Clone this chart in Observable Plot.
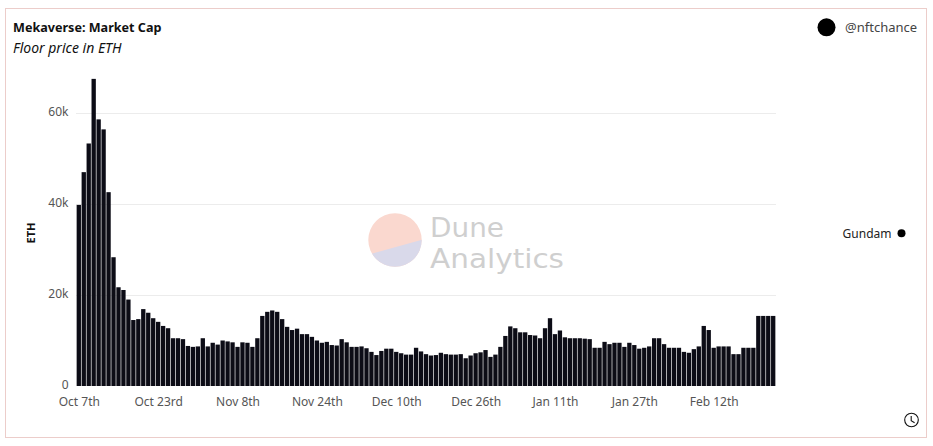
<!DOCTYPE html>
<html>
<head>
<meta charset="utf-8">
<script src="https://cdn.jsdelivr.net/npm/d3@7"></script>
<script src="https://cdn.jsdelivr.net/npm/@observablehq/plot@0.6"></script>
<style>
  html, body { margin: 0; padding: 0; background: #fff; }
  #wrap { position: relative; width: 933px; height: 446px; overflow: hidden; font-family: "Noto Sans", sans-serif; }
  #bg { position: absolute; left: 0; top: 0; }
  #chart { position: absolute; left: 0; top: 60px; }
  #chart svg { background: transparent !important; }
</style>
</head>
<body>
<div id="wrap">
  <svg id="bg" width="933" height="446" xmlns="http://www.w3.org/2000/svg">
    <defs>
      <clipPath id="logoClip"><circle cx="395" cy="240" r="26.7"/></clipPath>
    </defs>
    <rect x="5.5" y="8.5" width="921" height="429" fill="#fff" stroke="#eccdca" stroke-width="1"/>
    <text x="13" y="32" font-family="'Noto Sans', sans-serif" font-weight="700" font-size="12.6" fill="#111">Mekaverse: Market Cap</text>
    <text x="13" y="53" font-family="'Noto Sans', sans-serif" font-style="italic" font-size="14" fill="#111">Floor price in ETH</text>
    <circle cx="826.5" cy="27.3" r="9" fill="#000"/>
    <text x="845" y="32" font-family="'Noto Sans', sans-serif" font-size="13" fill="#444">@nftchance</text>
    <g clip-path="url(#logoClip)">
      <rect x="366" y="211" width="60" height="60" fill="#fad8cf"/>
      <polygon points="360,257 425,239 425,275 360,275" fill="#d9d9ea"/>
    </g>
    <text x="430" y="237" textLength="74" lengthAdjust="spacingAndGlyphs" font-family="'DejaVu Sans', sans-serif" font-size="26" fill="#cfcfcf">Dune</text>
    <text x="430" y="267.5" textLength="134" lengthAdjust="spacingAndGlyphs" font-family="'DejaVu Sans', sans-serif" font-size="26" fill="#cfcfcf">Analytics</text>
    <text transform="translate(35,233) rotate(-90)" text-anchor="middle" font-family="'Noto Sans', sans-serif" font-weight="700" font-size="11" fill="#111">ETH</text>
    <text x="891.5" y="237.5" text-anchor="end" font-family="'Noto Sans', sans-serif" font-size="12" fill="#222">Gundam</text>
    <circle cx="901.5" cy="233.3" r="4" fill="#000"/>
    <circle cx="911.5" cy="420" r="6.8" fill="none" stroke="#111" stroke-width="1.1"/>
    <path d="M911.2,416 V420.6 L914.6,422.8" fill="none" stroke="#111" stroke-width="1.1"/>
  </svg>
  <div id="chart"></div>
</div>
<script>
const startDate = "2021-10-07";
const floorEth = [
  39800, 47000, 53300, 67500, 58600, 56400, 42600, 28300, 21700, 21100,
  19000, 14500, 14700, 16900, 16100, 14900, 14100, 13200, 12700, 10500,
  10500, 10300, 8800, 8600, 8700, 10500, 8700, 9500, 9100,
  10000, 9800, 9600, 8600, 9600, 9500, 8600, 10500, 15400, 16300,
  16600, 16300, 14700, 13000, 12300, 12600, 11400, 11400, 10800, 10000,
  9500, 9700, 9000, 8900, 10300, 9600, 8600, 8600,
  8700, 8300, 7500, 6800, 7700, 8200, 8200, 7500, 7200, 6900,
  6900, 8400, 7600, 7000, 6700, 6800, 7300, 7000, 6900, 6900,
  7000, 6100, 6700, 7200, 7400, 7900, 6400, 6900, 8600,
  11000, 13100, 12700, 11800, 11800, 11200, 11100, 10500, 12700, 14900,
  11400, 12200, 10700, 10500, 10500, 10500, 10400, 10300, 8400, 8400,
  9700, 9200, 9500, 9500, 8600, 9500, 9000, 8200,
  8400, 8700, 10500, 10500, 9200, 8400, 8400, 8400, 7500, 7300,
  8100, 8700, 13200, 12300, 8400, 8700, 8700, 8700, 7000, 7000,
  8400, 8400, 8400, 15400, 15400, 15400, 15400
];
const tickDates = ["2021-10-07", "2021-10-23", "2021-11-08", "2021-11-24", "2021-12-10", "2021-12-26", "2022-01-11", "2022-01-27", "2022-02-12"];
const tickLabels = ["Oct 7th", "Oct 23rd", "Nov 8th", "Nov 24th", "Dec 10th", "Dec 26th", "Jan 11th", "Jan 27th", "Feb 12th"];
const yTicks = [0, 20000, 40000, 60000];
const yTickLabels = ["0", "20k", "40k", "60k"];

const fmt = d3.utcFormat("%Y-%m-%d");
const start = new Date(startDate + "T00:00:00Z");
const dates = floorEth.map((_, i) => fmt(d3.utcDay.offset(start, i)));
const rows = floorEth.map((v, i) => ({date: dates[i], eth: v}));

const chart = Plot.plot({
  width: 933,
  height: 360,
  marginLeft: 76,
  marginRight: 157,
  marginTop: 7.5,
  marginBottom: 34,
  style: {fontFamily: "'Noto Sans', sans-serif", fontSize: "12px", color: "#555", background: "transparent"},
  x: {type: "band", domain: dates, padding: 0.13, label: null},
  y: {domain: [0, 70000], label: null},
  marks: [
    Plot.gridY(yTicks.slice(1), {stroke: "#ececec", strokeOpacity: 1}),
    Plot.barY(rows, {x: "date", y: "eth", fill: "#0c0c16"}),
    Plot.axisX(tickDates, {tickSize: 0, tickPadding: 11, tickFormat: d => tickLabels[tickDates.indexOf(d)], label: null, fill: "#555"}),
    Plot.axisY(yTicks, {tickSize: 0, tickPadding: 8, dy: -1.5, tickFormat: d => yTickLabels[yTicks.indexOf(d)], label: null, fill: "#555"})
  ]
});
document.getElementById("chart").appendChild(chart);
</script>
</body>
</html>
